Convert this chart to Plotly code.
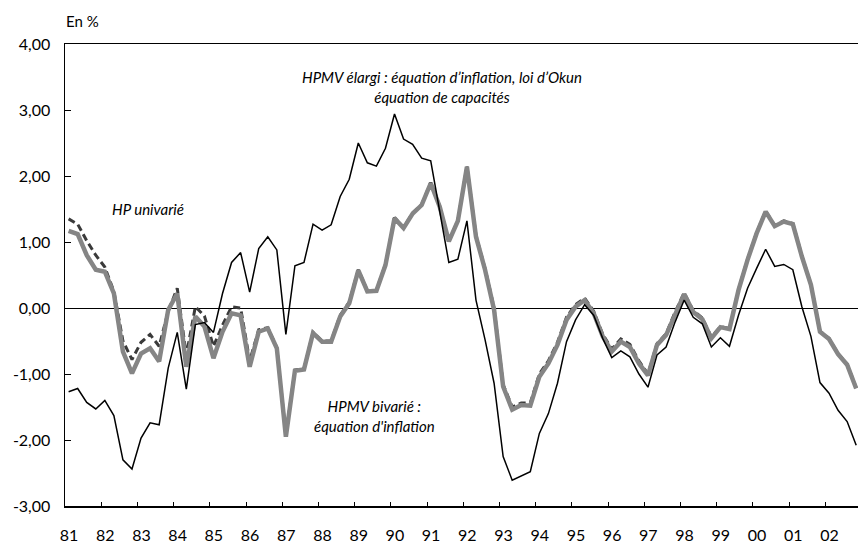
import plotly.graph_objects as go

# Quarterly data 1981T1 .. 2002T4 (88 quarters)
years = list(range(1981, 2003))
quarters = [1, 2, 3, 4]

hpmv_elargi = [
    -1.27, -1.22, -1.43, -1.53, -1.40, -1.63, -2.30, -2.44, -1.97, -1.74, -1.77, -0.91,
    -0.37, -1.23, -0.25, -0.22, -0.37, 0.22, 0.69, 0.84, 0.24, 0.90, 1.08, 0.88,
    -0.40, 0.64, 0.69, 1.27, 1.18, 1.26, 1.69, 1.95, 2.50, 2.20, 2.15, 2.42,
    2.94, 2.56, 2.48, 2.27, 2.23, 1.45, 0.69, 0.74, 1.32, 0.12, -0.48, -1.14,
    -2.25, -2.61, -2.55, -2.48, -1.90, -1.60, -1.14, -0.51, -0.18, 0.05, -0.11, -0.46,
    -0.75, -0.65, -0.74, -1.00, -1.20, -0.71, -0.59, -0.21, 0.12, -0.14, -0.24, -0.59,
    -0.45, -0.58, -0.11, 0.30, 0.60, 0.89, 0.63, 0.66, 0.58, 0.02, -0.43, -1.13,
    -1.29, -1.55, -1.72, -2.08,
]

hp_univarie = [
    1.35, 1.27, 1.02, 0.80, 0.62, 0.25, -0.50, -0.78, -0.52, -0.40, -0.58, -0.05,
    0.30, -0.72, 0.02, -0.12, -0.58, -0.26, 0.02, 0.00, -0.80, -0.33, -0.30, -0.60,
    -1.93, -0.94, -0.92, -0.37, -0.50, -0.50, -0.11, 0.09, 0.58, 0.26, 0.27, 0.66,
    1.37, 1.22, 1.44, 1.57, 1.90, 1.54, 1.01, 1.33, 2.15, 1.10, 0.60, 0.00,
    -1.16, -1.50, -1.44, -1.44, -1.00, -0.80, -0.52, -0.14, 0.05, 0.15, -0.05, -0.40,
    -0.62, -0.47, -0.55, -0.80, -1.00, -0.54, -0.39, -0.06, 0.23, -0.04, -0.15, -0.44,
    -0.28, -0.31, 0.28, 0.74, 1.14, 1.47, 1.25, 1.32, 1.28, 0.79, 0.36, -0.35,
    -0.46, -0.69, -0.85, -1.21,
]

hpmv_bivarie = [
    1.17, 1.12, 0.80, 0.58, 0.55, 0.22, -0.66, -0.99, -0.69, -0.61, -0.81, -0.03,
    0.22, -0.89, -0.13, -0.28, -0.76, -0.36, -0.08, -0.11, -0.89, -0.36, -0.31, -0.61,
    -1.95, -0.95, -0.93, -0.38, -0.51, -0.51, -0.13, 0.07, 0.57, 0.25, 0.26, 0.65,
    1.36, 1.21, 1.43, 1.56, 1.89, 1.53, 1.01, 1.32, 2.14, 1.08, 0.58, -0.03,
    -1.19, -1.54, -1.47, -1.48, -1.04, -0.84, -0.56, -0.18, 0.02, 0.12, -0.08, -0.43,
    -0.66, -0.51, -0.59, -0.84, -1.02, -0.56, -0.41, -0.08, 0.21, -0.06, -0.17, -0.46,
    -0.29, -0.32, 0.27, 0.73, 1.13, 1.46, 1.24, 1.31, 1.27, 0.78, 0.35, -0.36,
    -0.47, -0.70, -0.86, -1.22,
]

year_labels = ["81", "82", "83", "84", "85", "86", "87", "88", "89", "90", "91",
               "92", "93", "94", "95", "96", "97", "98", "99", "00", "01", "02"]
y_ticks = [4, 3, 2, 1, 0, -1, -2, -3]
y_labels = ["4,00", "3,00", "2,00", "1,00", "0,00", "-1,00", "-2,00", "-3,00"]

# quarter positions on a continuous year axis
x = [y + (q - 1) / 4 + 0.1 for y in years for q in quarters]

FONT = "Lato"

fig = go.Figure()
fig.add_trace(go.Scatter(x=x, y=hp_univarie, mode="lines", name="HP univarié",
                         line=dict(color="#3a3a3a", width=3, dash="7px,4px")))
fig.add_trace(go.Scatter(x=x, y=hpmv_bivarie, mode="lines", name="HPMV bivarié",
                         line=dict(color="#858585", width=4.5)))
fig.add_trace(go.Scatter(x=x, y=hpmv_elargi, mode="lines", name="HPMV élargi",
                         line=dict(color="#000000", width=1.5)))

fig.update_layout(
    width=858, height=543,
    margin=dict(l=65, r=0, t=44, b=37, autoexpand=False),
    paper_bgcolor="white", plot_bgcolor="white",
    showlegend=False,
    font=dict(family=FONT, size=15, color="black"),
    xaxis=dict(
        range=[1981, 2002.9],
        tickvals=years, ticktext=year_labels,
        ticks="inside", ticklen=4, tickwidth=1, tickcolor="black",
        ticklabelshift=4, ticklabelstandoff=14,
        showline=True, linecolor="black", linewidth=1.5, mirror=True,
        showgrid=False, zeroline=False, automargin=False,
        tickfont=dict(family=FONT, size=16),
    ),
    yaxis=dict(
        range=[-3, 4],
        tickvals=y_ticks, ticktext=y_labels,
        ticks="inside", ticklen=6, tickwidth=1, tickcolor="black",
        ticklabelstandoff=10,
        showline=True, linecolor="black", linewidth=1.5,
        showgrid=False, automargin=False,
        zeroline=True, zerolinecolor="black", zerolinewidth=1,
        tickfont=dict(family=FONT, size=16),
    ),
    annotations=[
        dict(text="En %", xref="paper", yref="paper", x=0, y=1, xshift=-1, yshift=12,
             xanchor="left", yanchor="bottom", showarrow=False,
             font=dict(family=FONT, size=15)),
        dict(text="<i>HPMV élargi : équation d’inflation, loi d’Okun<br>équation de capacités</i>",
             x=1991.4, y=3.35, xanchor="center", yanchor="middle", showarrow=False,
             align="center", font=dict(family=FONT, size=15)),
        dict(text="<i>HP univarié</i>", x=1983.3, y=1.5, xanchor="center", yanchor="middle",
             showarrow=False, font=dict(family=FONT, size=15)),
        dict(text="<i>HPMV bivarié :<br>équation d'inflation</i>", x=1989.55, y=-1.63,
             xanchor="center", yanchor="middle", showarrow=False, align="center",
             font=dict(family=FONT, size=15)),
    ],
)

fig.write_html(
    "out.html",
    config={"displayModeBar": False, "staticPlot": True},
    post_script="document.body.style.margin='0';document.body.style.overflow='hidden';",
)
